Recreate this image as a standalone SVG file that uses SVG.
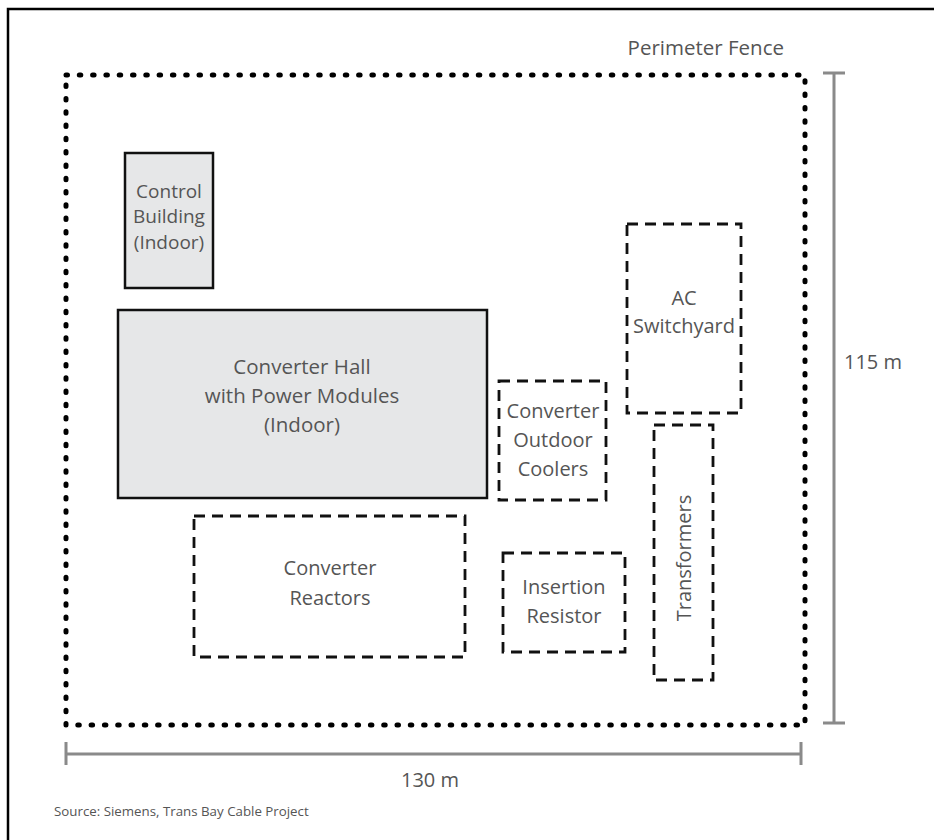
<svg xmlns="http://www.w3.org/2000/svg" width="934" height="840" viewBox="0 0 934 840">
<style>
  .lbl { font-family: "Open Sans", "Noto Sans", "Liberation Sans", sans-serif; fill: #555; text-anchor: middle; }
  .indoor { fill: #e6e7e8; stroke: #111; stroke-width: 2.5; }
  .outdoor { fill: none; stroke: #111; stroke-width: 2.8; stroke-dasharray: 11 7; }
  .dim { stroke: #8a8a8a; stroke-width: 3; fill: none; }
</style>
<rect x="0" y="0" width="934" height="840" fill="#fff"/>
<rect x="8" y="9" width="960" height="880" fill="none" stroke="#000" stroke-width="2.5"/>

<g id="fence">
  <rect x="66" y="75" width="739" height="650" fill="none" stroke="#000" stroke-width="5" stroke-dasharray="1.5 11.8" stroke-linecap="round"/>
  <text class="lbl" x="784" y="55" font-size="20.5" style="text-anchor:end">Perimeter Fence</text>
</g>

<g id="control-building">
  <rect class="indoor" x="125" y="153" width="88" height="135"/>
  <text class="lbl" font-size="19"><tspan x="169" y="198">Control</tspan><tspan x="169" y="223">Building</tspan><tspan x="169" y="249">(Indoor)</tspan></text>
</g>

<g id="converter-hall">
  <rect class="indoor" x="118" y="310" width="369" height="188"/>
  <text class="lbl" font-size="20.5"><tspan x="302" y="374">Converter Hall</tspan><tspan x="302" y="403">with Power Modules</tspan><tspan x="302" y="432">(Indoor)</tspan></text>
</g>

<g id="outdoor-coolers">
  <rect class="outdoor" x="499" y="381" width="107" height="119"/>
  <text class="lbl" font-size="20"><tspan x="553" y="418">Converter</tspan><tspan x="553" y="447">Outdoor</tspan><tspan x="553" y="476">Coolers</tspan></text>
</g>

<g id="ac-switchyard">
  <rect class="outdoor" x="627" y="224" width="114" height="189"/>
  <text class="lbl" font-size="20"><tspan x="684" y="305">AC</tspan><tspan x="684" y="333">Switchyard</tspan></text>
</g>

<g id="transformers">
  <rect class="outdoor" x="654" y="425" width="59" height="255"/>
  <text class="lbl" font-size="20" transform="translate(691 558) rotate(-90)" x="0" y="0">Transformers</text>
</g>

<g id="converter-reactors">
  <rect class="outdoor" x="194" y="516" width="271" height="141"/>
  <text class="lbl" font-size="20"><tspan x="330" y="575">Converter</tspan><tspan x="330" y="605">Reactors</tspan></text>
</g>

<g id="insertion-resistor">
  <rect class="outdoor" x="503" y="553" width="122" height="99"/>
  <text class="lbl" font-size="20"><tspan x="564" y="594">Insertion</tspan><tspan x="564" y="623">Resistor</tspan></text>
</g>

<g id="dimensions">
  <path class="dim" d="M823 73H845M834 73V723M823 723H845"/>
  <text class="lbl" x="873" y="369" font-size="20">115 m</text>
  <path class="dim" d="M66 742V765M66 754H801M801 742V765"/>
  <text class="lbl" x="430" y="787" font-size="20">130 m</text>
</g>

<text x="54" y="816" font-family="Open Sans, Noto Sans, Liberation Sans, sans-serif" font-size="13.3" fill="#555">Source: Siemens, Trans Bay Cable Project</text>
</svg>
